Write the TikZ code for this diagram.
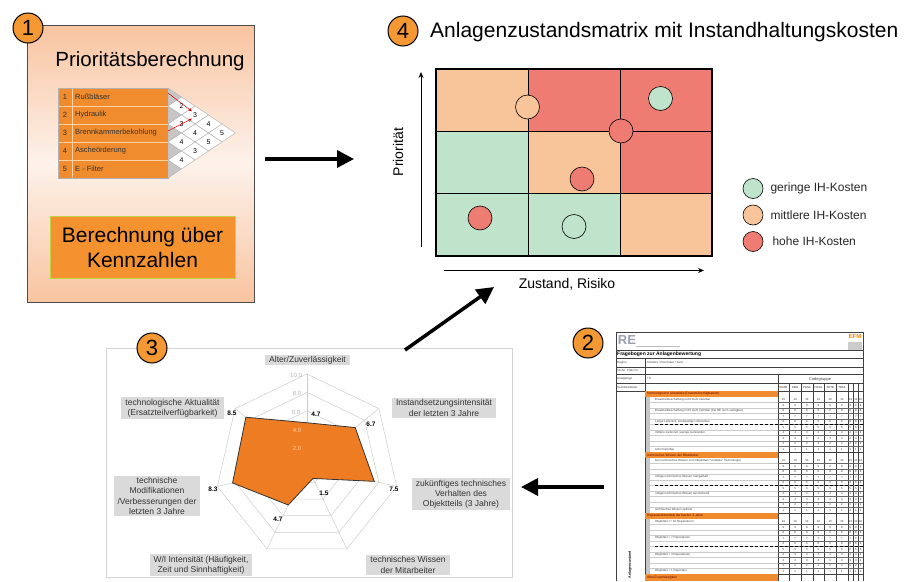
\documentclass[tikz,border=0pt]{standalone}
\usepackage{fontspec}
\setmainfont{Liberation Sans}
\usetikzlibrary{arrows.meta,positioning}

\definecolor{numorange}{RGB}{243,152,50}
\definecolor{tblorange}{RGB}{240,140,45}
\definecolor{boxorange}{RGB}{244,146,48}
\definecolor{spiderorange}{RGB}{238,124,34}
\definecolor{panelpeach}{RGB}{248,196,160}
\definecolor{panelwhite}{RGB}{253,242,234}
\definecolor{kennrand}{RGB}{196,210,70}
\definecolor{mgreen}{RGB}{192,227,204}
\definecolor{mpeach}{RGB}{248,197,154}
\definecolor{mred}{RGB}{238,124,115}
\definecolor{catgray}{RGB}{218,218,218}
\definecolor{logoblue}{RGB}{150,160,175}

\tikzset{
  numcirc/.style={circle, draw, line width=1pt, fill=numorange, minimum size=30pt, inner sep=0pt, font=\fontsize{22}{22}\selectfont},
  panelone/.style={draw=black!70, line width=0.8pt, minimum width=227pt, minimum height=277pt, inner sep=0pt,
    top color=panelpeach, bottom color=panelpeach, middle color=panelwhite},
  kennbox/.style={draw=kennrand, line width=1pt, fill=boxorange, minimum width=185pt, minimum height=62pt, align=center,
    font=\fontsize{21}{25}\selectfont},
  rowtxt/.style={inner sep=0pt, text=black!80, font=\fontsize{7.5}{8}\selectfont},
  tblline/.style={draw=orange!35!white, line width=0.4pt},
  diamcell/.style={fill=white, draw=gray!70, line width=0.4pt},
  diamnum/.style={inner sep=1pt, font=\fontsize{7}{7}\selectfont},
  redarr/.style={red!85!black, line width=0.5pt, -{Stealth[length=3.5pt,width=3pt]}},
  bigarrow/.style={line width=3.5pt, -{Triangle[length=17pt,width=17pt]}},
  axisarrow/.style={line width=0.9pt, -{Stealth[length=6pt,width=5pt]}},
  costdot/.style={circle, draw, line width=0.6pt, minimum size=24pt, inner sep=0pt},
  legtxt/.style={inner sep=0pt, font=\fontsize{12}{12}\selectfont, text=black!85},
  catbox/.style={fill=catgray, inner xsep=4pt, inner ysep=1.5pt, align=center, text=black!80,
    font=\fontsize{8.5}{10.2}\selectfont},
  spidergrid/.style={draw=gray!40, line width=0.5pt},
  vallabel/.style={inner sep=0pt, font=\bfseries\fontsize{6.5}{7}\selectfont},
  ringlabel/.style={inner sep=0pt, text=gray!60, font=\fontsize{6}{7}\selectfont},
  qline/.style={draw=black!75, line width=0.4pt},
  qthin/.style={draw=gray!40, line width=0.25pt},
  qgrid/.style={draw=black!60, line width=0.3pt},
  qdash/.style={draw=black, line width=0.8pt, dash pattern=on 3pt off 2pt},
  qtxt/.style={inner sep=0pt, anchor=west, text=black!75, font=\fontsize{3}{3}\selectfont},
  qnum/.style={inner sep=0pt, text=black!85, font=\fontsize{2.8}{3}\selectfont},
  qhead/.style={inner sep=0pt, anchor=west, text=red!40!black, font=\fontsize{3.3}{3.5}\selectfont}
}

\begin{document}
\begin{tikzpicture}[x=1pt,y=-1pt]
\useasboundingbox (0,0) rectangle (910,581);

% (1) Prioritaetsberechnung
\node[panelone] (prio) at (140.5,163.5) {};
\node[inner sep=0pt, font=\fontsize{20.5}{24}\selectfont] (ptitle) at (150,61) {Prioritätsberechnung};
\fill[tblorange] (58,88) rectangle (168,178);
\foreach \yy in {106,124,142,160}
  \draw[tblline] (58,\yy) -- (168,\yy);
\draw[tblline] (72,88) -- (72,178);
\draw[gray!60, line width=0.4pt] (58,88) rectangle (168,178);
\foreach \i/\nm in {1/Rußbläser,2/Hydraulik,3/Brennkammerbekohlung,4/Ascheörderung,5/E - Filter}{
  \node[rowtxt] (rn\i) at (65,{79+18*\i}) {\i};
  \node[rowtxt, anchor=west] (rl\i) at (75,{79+18*\i}) {\nm};
}
\foreach \i in {1,...,5}
  \filldraw[fill=gray!45, draw=gray!60, line width=0.3pt] (168,{70+18*\i}) -- (181.5,{79+18*\i}) -- (168,{88+18*\i}) -- cycle;
\foreach \i/\j/\v in {1/2/2,1/3/3,2/3/3,1/4/4,2/4/4,3/4/4,1/5/5,2/5/5,3/5/3,4/5/4}{
  \pgfmathsetmacro\cx{168+13.5*(\j-\i)}
  \pgfmathsetmacro\cy{79+9*(\i+\j)}
  \draw[diamcell] ({\cx-13.5},\cy) -- (\cx,{\cy-9}) -- ({\cx+13.5},\cy) -- (\cx,{\cy+9}) -- cycle;
  \node[diamnum] (d\i\j) at (\cx,\cy) {\v};
}
\coordinate (ra1) at (168,93);
\coordinate (ra2) at (168,131);
\draw[redarr] (ra1) -- (d13.north west);
\draw[redarr] (ra2) -- (d13.south west);
\node[kennbox] (kenn) at (142.5,247) {Berechnung über\\Kennzahlen};
\node[numcirc] (n1) at (28,28) {1};

% (4) Anlagenzustandsmatrix
\node[numcirc] (n4) at (403,31) {4};
\node[anchor=west, inner sep=0pt, font=\fontsize{21}{24}\selectfont] (mtitle) at (430,32) {Anlagenzustandsmatrix mit Instandhaltungskosten};
\foreach \c/\r/\col in {0/0/mpeach,1/0/mred,2/0/mred,0/1/mgreen,1/1/mpeach,2/1/mred,0/2/mgreen,1/2/mgreen,2/2/mpeach}
  \fill[\col] ({436+92*\c},{69+62.33*\r}) rectangle +(92,62.33);
\draw[line width=0.8pt] (528,69) -- (528,256);
\draw[line width=0.8pt] (620,69) -- (620,256);
\draw[line width=0.8pt] (436,131.3) -- (712,131.3);
\draw[line width=0.8pt] (436,193.7) -- (712,193.7);
\node[draw, line width=2.5pt, minimum width=276pt, minimum height=187pt, inner sep=0pt] (zmatrix) at (574,162.5) {};
\node[costdot, fill=mpeach] (k1) at (527.5,107) {};
\node[costdot, fill=mgreen] (k2) at (660.5,98.5) {};
\node[costdot, fill=mred] (k3) at (621,131) {};
\node[costdot, fill=mred] (k4) at (582,179) {};
\node[costdot, fill=mred] (k5) at (480,218) {};
\node[costdot, fill=mgreen] (k6) at (574,226.5) {};
\coordinate (yaxlo) at (421,247);
\coordinate (yaxhi) at (421,72);
\coordinate (xaxlo) at (444,270.5);
\coordinate (xaxhi) at (704,270.5);
\draw[axisarrow] (yaxlo) -- (yaxhi);
\draw[axisarrow] (xaxlo) -- (xaxhi);
\node[rotate=90, inner sep=0pt, font=\fontsize{14}{14}\selectfont] (prioritaet) at (398,152) {Priorität};
\node[inner sep=0pt, font=\fontsize{14}{14}\selectfont] (zustand) at (567,284) {Zustand, Risiko};
\node[costdot, minimum size=20pt, fill=mgreen] (lg1) at (753,188.5) {};
\node[costdot, minimum size=20pt, fill=mpeach] (lg2) at (753,215) {};
\node[costdot, minimum size=20pt, fill=mred] (lg3) at (753,241.5) {};
\node[legtxt, right=7pt of lg1] (lt1) {geringe IH-Kosten};
\node[legtxt, right=7pt of lg2] (lt2) {mittlere IH-Kosten};
\node[legtxt, right=9pt of lg3] (lt3) {hohe IH-Kosten};

% (3) Netzdiagramm
\node[draw=gray!35, line width=0.6pt, minimum width=406pt, minimum height=229pt, inner sep=0pt] (spiderframe) at (309,462.5) {};
\begin{scope}[shift={(307,466)}, y=1pt]
  \foreach \r in {2,4,...,10}
    \draw[spidergrid] (90:{\r*9.2}) \foreach \k in {1,...,6} { -- ({90-\k*360/7}:{\r*9.2}) } -- cycle;
  \foreach \k in {0,...,6}
    \draw[spidergrid] (0,0) -- ({90-\k*360/7}:92);
  \draw[fill=spiderorange, draw=black!80, line width=0.8pt]
    (90:{4.7*9.2}) -- ({90-360/7}:{6.7*9.2}) -- ({90-2*360/7}:{7.5*9.2}) -- ({90-3*360/7}:{1.5*9.2})
    -- ({90-4*360/7}:{4.7*9.2}) -- ({90-5*360/7}:{8.3*9.2}) -- ({90-6*360/7}:{8.5*9.2}) -- cycle;
\end{scope}
\node[ringlabel] (r10) at (296,375) {10.0};
\node[ringlabel] (r8) at (297,393) {8.0};
\node[ringlabel] (r6) at (296,412) {6.0};
\node[ringlabel, text=orange!35!white] (r4) at (297,430) {4.0};
\node[ringlabel, text=orange!35!white] (r2) at (297,448) {2.0};
\node[vallabel] (v1) at (316,414) {4.7};
\node[vallabel] (v2) at (371,424) {6.7};
\node[vallabel] (v3) at (394,489) {7.5};
\node[vallabel] (v4) at (324,493) {1.5};
\node[vallabel] (v5) at (278,519) {4.7};
\node[vallabel] (v6) at (213,489) {8.3};
\node[vallabel] (v7) at (232,413) {8.5};
\node[catbox] (cat1) at (307.5,360) {Alter/Zuverlässigkeit};
\node[catbox] (cat2) at (444,408) {Instandsetzungsintensität\\der letzten 3 Jahre};
\node[catbox] (cat3) at (461,494) {zukünftiges technisches\\Verhalten des\\Objektteils (3 Jahre)};
\node[catbox] (cat4) at (408,565) {technisches Wissen\\der Mitarbeiter};
\node[catbox] (cat5) at (201,565) {W/I Intensität (Häufigkeit,\\Zeit und Sinnhaftigkeit)};
\node[catbox] (cat6) at (157,496) {technische\\Modifikationen\\/Verbesserungen der\\letzten 3 Jahre};
\node[catbox] (cat7) at (172.5,408) {technologische Aktualität\\(Ersatzteilverfügbarkeit)};
\node[numcirc] (n3) at (152,348) {3};

% (2) Fragebogen
\node[numcirc] (n2) at (588,343) {2};
\draw[qline] (616,581) -- (616,332) -- (863,332) -- (863,581);
\node[inner sep=0pt, text=logoblue, font=\bfseries\fontsize{13}{13}\selectfont] (relogo) at (627,340) {RE};
\draw[gray!50, line width=0.3pt] (636,346) -- (680,346);
\node[fill=gray!40, minimum width=14pt, minimum height=8pt, inner sep=0pt] (efmbox) at (855,345.5) {};
\node[inner sep=0pt, text=orange, font=\bfseries\fontsize{6}{6}\selectfont] (efm) at (855,336.5) {EFM};
\foreach \yy in {350,358,367,374,383,391}
  \draw[qline] (616,\yy) -- (863,\yy);
\draw[qline] (645,358) -- (645,581);
\draw[qline] (777.7,374) -- (777.7,581);
\foreach \cx in {789.3,801,812.7,824.3,836,847.7,853.3,858.3}
  \draw[qline] (\cx,383) -- (\cx,581);
\node[anchor=west, inner sep=0pt, font=\bfseries\fontsize{5}{5}\selectfont] (fbtitle) at (617,354) {Fragebogen zur Anlagenbewertung};
\node[qtxt] (fb1) at (617,362.5) {Region};
\node[qtxt] (fb2) at (647,362.5) {Klosters / Poschiavo / Ilanz};
\node[qtxt] (fb3) at (617,370.5) {Techn. Platz Nr.};
\node[qtxt] (fb4) at (617,378.5) {Anlagentyp};
\node[qtxt] (fb5) at (647,378.5) {TS};
\node[qtxt] (fb6) at (617,387) {Sachbearbeiter};
\node[inner sep=0pt, text=black!75, font=\fontsize{4}{4}\selectfont] (codeg) at (820,379) {Codegruppe};
\foreach \cx/\cn in {783.5/ERAB,795.2/SEIN,806.9/PGSA,818.5/NSSA,830.2/SETE,841.9/TRAF}
  \node[qnum] at (\cx,387.5) {\cn};
\foreach \yo/\sname in {391/{technologische Aktualität (Ersatzteilverfügbarkeit)},452/{technisches Wissen der Mitarbeiter},513/{Reparaturintensität der letzten 3 Jahre}}{
  \fill[tblorange] (645,\yo) rectangle (777.7,{\yo+6});
  \node[qhead] at (647,{\yo+3}) {\sname};
  \fill[gray!45] (646,{\yo+6}) rectangle (650,{\yo+61});
  \foreach \r in {1,...,10}{
    \draw[qthin] (650,{\yo+6+\r*5.5}) -- (777.7,{\yo+6+\r*5.5});
    \draw[qgrid] (777.7,{\yo+6+\r*5.5}) -- (863,{\yo+6+\r*5.5});
    \pgfmathtruncatemacro\v{11-\r}
    \foreach \cx in {783.5,795.2,806.9,818.5,830.2,841.9,850.5,855.8,860.7}
      \node[qnum] at (\cx,{\yo+6+(\r-0.5)*5.5}) {\v};
  }
  \draw[qline] (645,{\yo+61}) -- (863,{\yo+61});
  \draw[qdash] (655,{\yo+6+5.5*5}) -- (863,{\yo+6+5.5*5});
}
\fill[tblorange] (645,574) rectangle (777.7,581);
\node[qhead] at (647,577.5) {Alter/Zuverlässigkeit};
\node[qtxt] at (655,399.5) {Ersatzteilbeschaffung nicht mehr lieferbar};
\node[qtxt] at (655,410.5) {Ersatzteilbeschaffung nicht mehr lieferbar (bei RE noch verfügbar)};
\node[qtxt] at (655,421.5) {Lange Lieferzeit, kostspielige Lieferanten};
\node[qtxt] at (655,432.5) {mittlere Lieferzeit, wenige Lieferanten};
\node[qtxt] at (655,449) {sofort lieferbar};
\node[qtxt] at (655,460.5) {kein technisches Wissen zum Objektteil ("veraltete" Technologie)};
\node[qtxt] at (655,477) {nötiges technisches Wissen mangelhaft};
\node[qtxt] at (655,493.5) {nötiges technisches Wissen ausreichend};
\node[qtxt] at (655,510) {technisches Wissen optimal};
\node[qtxt] at (655,521.5) {Objektteil >= 10 Reparaturen};
\node[qtxt] at (655,538) {Objektteil = 7 Reparaturen};
\node[qtxt] at (655,554.5) {Objektteil = 4 Reparaturen};
\node[qtxt] at (655,571) {Objektteil = 1 Reparatur};
\node[rotate=90, inner sep=0pt, font=\bfseries\fontsize{3.5}{3.5}\selectfont] (fbside) at (630,565) {Anlagenzustand};

% Pfeile
\coordinate (p1out) at (265,159);
\coordinate (p4in) at (354,159);
\coordinate (p3out) at (405,350);
\coordinate (p4low) at (494,287);
\coordinate (p2out) at (604,487);
\coordinate (p3in) at (521,487);
\draw[bigarrow] (p1out) -- (p4in);
\draw[bigarrow] (p3out) -- (p4low);
\draw[bigarrow] (p2out) -- (p3in);

\end{tikzpicture}
\end{document}
